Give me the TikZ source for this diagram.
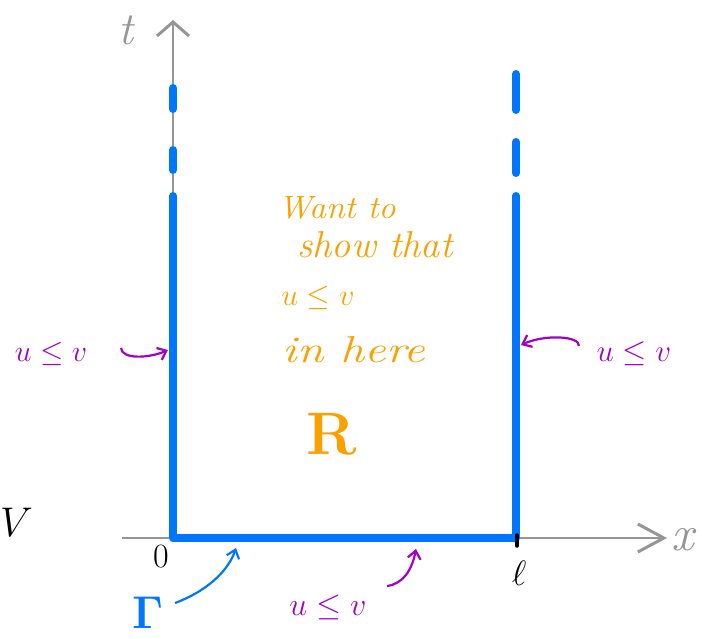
\documentclass[tikz,border=0pt]{standalone}
\usepackage{fontspec}
\usepackage{graphicx}
\usetikzlibrary{arrows.meta}
\definecolor{bblue}{RGB}{0,118,255}
\definecolor{ppurple}{RGB}{160,0,200}
\definecolor{oorange}{RGB}{250,160,0}
\definecolor{ggray}{RGB}{150,150,150}
\tikzset{
  xaxis/.style={ggray, line width=2.5pt, -{Straight Barb[length=26pt,width=28pt,line width=3pt]}},
  taxis/.style={ggray, line width=2.5pt, -{Straight Barb[length=14pt,width=32pt,line width=3pt]}},
  bnd/.style={bblue, line width=8pt, line cap=round},
  bline/.style={bblue, line width=8pt},
  parrow/.style={ppurple, line width=2.2pt, -{Straight Barb[length=8pt,width=13pt,line width=2.2pt]}},
  barrow/.style={bblue, line width=2.2pt, -{Straight Barb[length=8pt,width=13pt,line width=2.2pt]}},
  ptext/.style={ppurple, font=\fontsize{20}{24}\selectfont},
  otext/.style={oorange, font=\fontsize{24}{28}\selectfont\itshape, inner sep=0pt},
}
\begin{document}
\begin{tikzpicture}[x=1pt,y=-1pt]
\clip (0,0) rectangle (702,639);
\useasboundingbox (0,0) rectangle (702,639);
% axes
\coordinate (xs) at (122,538);
\coordinate (xe) at (667,538);
\coordinate (ts) at (173,541);
\coordinate (te) at (173,20);
\draw[xaxis] (xs) -- (xe);
\draw[taxis] (ts) -- (te);
\node[ggray, font=\fontsize{46}{50}\selectfont\itshape] (tl) at (126,30) {t};
\node[ggray, font=\fontsize{50}{54}\selectfont\itshape] (xl) at (683,540) {x};
% boundary
\coordinate (bl) at (173,538);
\coordinate (br) at (516,538);
\coordinate (tl1) at (173,195);
\coordinate (tr1) at (516,195);
\draw[bline, line join=round] (tl1) -- (bl) -- (br) -- (tr1);
\draw[bnd] (173,88) -- (173,109);
\draw[bnd] (173,150) -- (173,170);
\draw[bnd] (516,74) -- (516,110);
\draw[bnd] (516,142) -- (516,173);
\draw[bnd] (173,196) -- (173,200);
\draw[bnd] (516,196) -- (516,200);
% ticks and labels
\draw[black, line width=3.5pt, line cap=round] (517,535) -- (517,546);
\node[font=\fontsize{34}{38}\selectfont] (zero) at (161,557) {0};
\node[font=\fontsize{20}{24}\selectfont] (ell) at (519,573) {\scalebox{1.7}{$\ell$}};
\node[font=\fontsize{20}{24}\selectfont, anchor=west, inner sep=0pt] (vv) at (0,522) {\scalebox{2}{$V$}};
% Gamma
\node[bblue, font=\fontsize{46}{50}\selectfont\bfseries] (gam) at (148,613) {Γ};
\coordinate (gs) at (175,603);
\coordinate (ge) at (236,548);
\draw[barrow] (gs) .. controls (205,592) and (228,572) .. (ge);
% bottom u<=v
\node[ptext] (ub) at (328,607) {\scalebox{1.55}{$u \leq v$}};
\coordinate (us) at (387,586);
\coordinate (ue) at (416,549);
\draw[parrow] (us) .. controls (403,584) and (412,570) .. (ue);
% left u<=v
\node[ptext] (ul) at (51,354) {\scalebox{1.45}{$u \leq v$}};
\coordinate (ls) at (121,348);
\coordinate (le) at (168,350);
\draw[parrow] (ls) .. controls (122,360) and (150,358) .. (le);
% right u<=v
\node[ptext] (ur) at (634,354) {\scalebox{1.5}{$u \leq v$}};
\coordinate (rs) at (579,346);
\coordinate (re) at (521,345);
\draw[parrow] (rs) .. controls (580,336) and (545,334) .. (re);
% orange text
\node[otext] (w1) at (337,208) {\resizebox{117pt}{22pt}{Want to}};
\node[otext] (w2) at (375,245) {\resizebox{155pt}{26pt}{show that}};
\node[otext] (w3) at (318,298) {\resizebox{73pt}{!}{$u \leq v$}};
\node[otext] (w4) at (354,350) {\resizebox{142pt}{26pt}{in here}};
\node[oorange, font=\fontsize{60}{64}\selectfont\bfseries] (R) at (332,434) {R};
\end{tikzpicture}
\end{document}
